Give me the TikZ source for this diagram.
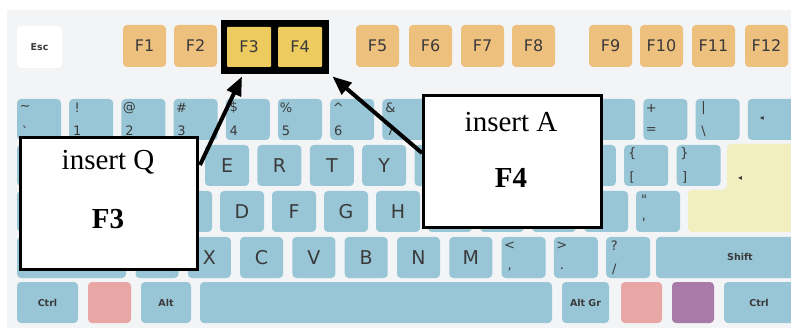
\documentclass[tikz,border=0pt]{standalone}
\usepackage{fontspec}
\setmainfont{Liberation Serif}
\newfontfamily\keyfont{DejaVu Sans}
\usetikzlibrary{arrows.meta,calc}
\definecolor{kbg}{HTML}{F3F4F6}
\definecolor{kblue}{HTML}{98C6D6}
\definecolor{korange}{HTML}{EDC07E}
\definecolor{kyellow}{HTML}{EDCB5E}
\definecolor{kenter}{HTML}{F1EEC0}
\definecolor{kpink}{HTML}{E8A7A4}
\definecolor{kpurple}{HTML}{A87AA8}
\definecolor{ktext}{HTML}{3A3A3A}
\newcommand\symkey[5]{%
  \node[keyb, minimum width=44pt] (#1) at (#2,#3) {};
  \node[symlab] (#1t) at ($(#1.north west)+(8,9)$) {#4};
  \node[symlab] (#1b) at ($(#1.south west)+(8,-9)$) {#5};
}
\begin{document}
\begin{tikzpicture}[x=1pt,y=-1pt,
  keyb/.style={fill=kblue, rounded corners=4pt, anchor=north west, inner sep=0pt, outer sep=0pt,
    minimum height=41pt, text=ktext, font=\keyfont\fontsize{19}{19}\selectfont},
  fkey/.style={keyb, fill=korange, minimum width=43pt, minimum height=42pt, font=\keyfont\fontsize{16}{16}\selectfont},
  symlab/.style={inner sep=0pt, text=ktext, font=\keyfont\fontsize{13}{13}\selectfont},
  smalllab/.style={inner sep=0pt, text=ktext, font=\keyfont\bfseries\fontsize{9.5}{9.5}\selectfont},
  callout/.style={draw=black, line width=3pt, fill=white, anchor=north west, inner sep=0pt,
    minimum width=#1},
  callout/.default={177pt},
  arr/.style={line width=4pt, -{Triangle[length=19pt,width=15pt]}},
  bigtxt/.style={inner sep=0pt, font=\fontsize{29}{29}\selectfont}
]
\useasboundingbox (0,0) rectangle (791,328);
\clip (0,0) rectangle (791,328);
\fill[kbg] (7,10) rectangle (800,340);

% function row
\node[keyb, fill=white, minimum width=45pt, minimum height=42pt] (esc) at (17,26) {};
\node[smalllab] (esct) at (esc.center) {Esc};
\node[fkey] (f1) at (123,25) {F1};
\node[fkey] (f2) at (174,25) {F2};
\node[fill=black, anchor=north west, inner sep=0pt, minimum width=108pt, minimum height=54pt] (frame) at (221,20) {};
\node[fkey, fill=kyellow, rounded corners=1pt, minimum width=44pt, minimum height=40pt] (f3) at (227,27) {F3};
\node[fkey, fill=kyellow, rounded corners=1pt, minimum width=44pt, minimum height=40pt] (f4) at (278,27) {F4};
\node[fkey] (f5) at (356,25) {F5};
\node[fkey] (f6) at (409,25) {F6};
\node[fkey] (f7) at (461,25) {F7};
\node[fkey] (f8) at (512,25) {F8};
\node[fkey] (f9) at (589,25) {F9};
\node[fkey] (f10) at (640,25) {F10};
\node[fkey] (f11) at (692,25) {F11};
\node[fkey] (f12) at (745,25) {F12};

% number row
\symkey{n0}{17}{99}{\textasciitilde}{\textasciigrave}
\symkey{n1}{69.2}{99}{!}{1}
\symkey{n2}{121.4}{99}{@}{2}
\symkey{n3}{173.6}{99}{\#}{3}
\symkey{n4}{225.8}{99}{\$}{4}
\symkey{n5}{278}{99}{\%}{5}
\symkey{n6}{330.2}{99}{\textasciicircum}{6}
\symkey{n7}{382.4}{99}{\&}{7}
\node[keyb, minimum width=44pt] (n8) at (434.6,99) {};
\node[keyb, minimum width=44pt] (n9) at (486.8,99) {};
\node[keyb, minimum width=44pt] (n10) at (539,99) {};
\node[keyb, minimum width=44pt] (n11) at (591.2,99) {};
\symkey{n12}{643.4}{99}{+}{=}
\symkey{n13}{695.6}{99}{|}{\textbackslash}
\node[keyb, minimum width=60pt] (bksp) at (747.8,99) {};
\node[symlab, font=\keyfont\fontsize{8}{8}\selectfont] (bkspl) at ($(bksp.west)+(14,-1)$) {◂};

% qwerty row
\node[keyb, minimum width=74pt] (tab) at (17,145) {};
\node[keyb, minimum width=44pt] (kq) at (100.2,145) {};
\node[keyb, minimum width=44pt] (kw) at (152.6,145) {};
\node[keyb, minimum width=44pt] (ke) at (205,145) {E};
\node[keyb, minimum width=44pt] (kr) at (257.4,145) {R};
\node[keyb, minimum width=44pt] (kt) at (309.8,145) {T};
\node[keyb, minimum width=44pt] (ky) at (362.2,145) {Y};
\node[keyb, minimum width=44pt] (ku) at (414.6,145) {};
\node[keyb, minimum width=44pt] (ki) at (467,145) {};
\node[keyb, minimum width=44pt] (ko) at (519.4,145) {};
\node[keyb, minimum width=44pt] (kp) at (571.8,145) {};
\symkey{klb}{624.2}{145}{\{}{[}
\symkey{krb}{676.6}{145}{\}}{]}
\fill[kenter, rounded corners=4pt] (727,144) -- (800,144) -- (800,232) -- (688,232) -- (688,190) -- (727,190) -- cycle;
\node[symlab, font=\keyfont\fontsize{8}{8}\selectfont] (entl) at (740,178) {◂};

% home row
\node[keyb, minimum width=91pt] (caps) at (17,191) {};
\node[keyb, minimum width=44pt] (ka) at (116,191) {};
\node[keyb, minimum width=44pt] (ks) at (168,191) {};
\node[keyb, minimum width=44pt] (kd) at (220,191) {D};
\node[keyb, minimum width=44pt] (kf) at (272,191) {F};
\node[keyb, minimum width=44pt] (kg) at (324,191) {G};
\node[keyb, minimum width=44pt] (kh) at (376,191) {H};
\node[keyb, minimum width=44pt] (kj) at (428,191) {};
\node[keyb, minimum width=44pt] (kk) at (480,191) {};
\node[keyb, minimum width=44pt] (kl) at (532,191) {};
\node[keyb, minimum width=44pt] (ksc) at (584,191) {};
\symkey{kqu}{636}{191}{"}{'}

% bottom letter row
\node[keyb, minimum width=109pt] (lsh) at (17,237) {};
\node[keyb, minimum width=43pt] (kz) at (135.5,237) {};
\node[keyb, minimum width=43pt] (kx) at (187.8,237) {X};
\node[keyb, minimum width=43pt] (kc) at (240.1,237) {C};
\node[keyb, minimum width=43pt] (kv) at (292.4,237) {V};
\node[keyb, minimum width=43pt] (kb) at (344.7,237) {B};
\node[keyb, minimum width=43pt] (kn) at (397,237) {N};
\node[keyb, minimum width=43pt] (km) at (449.3,237) {M};
\symkey{kcm}{501.6}{237}{<}{,}
\symkey{kdt}{553.9}{237}{>}{.}
\symkey{ksl}{606.2}{237}{?}{/}
\node[keyb, minimum width=150pt] (rsh) at (656,237) {};
\node[smalllab] (rshl) at (740,257) {Shift};

% space row
\node[keyb, minimum width=61pt, minimum height=41pt] (lctrl) at (17,282) {};
\node[smalllab] (lctrll) at (lctrl.center) {Ctrl};
\node[keyb, fill=kpink, minimum width=43pt] (lwin) at (88,282) {};
\node[keyb, minimum width=50pt] (lalt) at (141,282) {};
\node[smalllab] (laltl) at (lalt.center) {Alt};
\node[keyb, minimum width=352pt] (space) at (200,282) {};
\node[keyb, minimum width=47pt] (ralt) at (562,282) {};
\node[smalllab] (raltl) at (ralt.center) {Alt Gr};
\node[keyb, fill=kpink, minimum width=41pt] (rwin) at (621,282) {};
\node[keyb, fill=kpurple, minimum width=42pt] (menu) at (672,282) {};
\node[keyb, minimum width=80pt] (rctrl) at (724,282) {};
\node[smalllab] (rctrll) at (759,303) {Ctrl};

% callouts
\node[callout, minimum height=132pt] (bq) at (19,136) {};
\node[bigtxt] (bqa) at (108,162) {insert Q};
\node[bigtxt, font=\bfseries\fontsize{29}{29}\selectfont] (bqb) at (108,219) {F3};
\node[callout, minimum width=178pt, minimum height=132pt] (ba) at (422,94) {};
\node[bigtxt] (baa) at (511,122) {insert A};
\node[bigtxt, font=\bfseries\fontsize{29}{29}\selectfont] (bab) at (511,178) {F4};

\coordinate (tq) at ($(bq.north east)+(1,29)$);
\coordinate (hq) at ($(frame.south west)+(21,2)$);
\coordinate (ta) at ($(ba.north west)+(0,59)$);
\coordinate (ha) at ($(frame.south east)+(3,2)$);
\draw[arr] (tq) -- (hq);
\draw[arr] (ta) -- (ha);
\end{tikzpicture}
\end{document}
